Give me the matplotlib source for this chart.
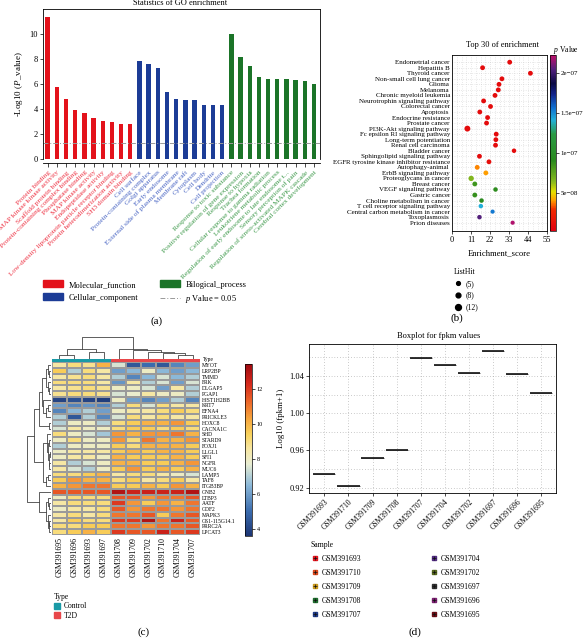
import matplotlib
matplotlib.use("Agg")
import matplotlib.pyplot as plt
import numpy as np
from matplotlib.colors import LinearSegmentedColormap, ListedColormap
from matplotlib.lines import Line2D
from matplotlib.patches import Patch
from matplotlib.ticker import FuncFormatter

plt.rcParams['font.family'] = ['Liberation Serif', 'DejaVu Serif']
plt.rcParams['mathtext.fontset'] = 'custom'
plt.rcParams['mathtext.it'] = 'Liberation Serif:italic'
plt.rcParams['mathtext.rm'] = 'Liberation Serif'
plt.rcParams['axes.linewidth'] = 0.6

# ---------------- Data: panel (a) ----------------
mf_labels = ["Protein binding", "MAP kinase kinase activity", "Scaffold protein binding",
             "Protein-containing complex binding", "Phosphatase binding", "MAP kinase activity",
             "Endopeptidase activity", "Low-density lipoprotein particle receptor binding",
             "Protein heterodimerization activity", "SH3 domain binding"]
mf_vals = [11.3, 5.75, 4.8, 3.9, 3.7, 3.3, 3.02, 3.0, 2.85, 2.8]
cc_labels = ["Cell surface", "Protein-containing complex", "Golgi apparatus", "Early endosome",
             "External side of plasma membrane", "Membrane raft", "Cytoplasm", "Cell body",
             "Dendrite", "Cell projection"]
cc_vals = [7.85, 7.6, 7.25, 5.35, 4.8, 4.75, 4.75, 4.35, 4.35, 4.3]
bp_labels = ["Response to toxic substance", "Positive regulation of gene expression",
             "Response to hypoxia", "Trachea formation", "Cellular response to gamma radiation",
             "Leukotriene metabolic process", "Regulation of early endosome to late endosome t...",
             "Sensory perception of pain", "Regulation of stress-activated MAPK cascade",
             "Cerebral cortex development"]
bp_vals = [9.95, 8.17, 7.4, 6.55, 6.42, 6.42, 6.42, 6.29, 6.21, 6.0]
p_cut = 0.05

# ---------------- Data: panel (b) ----------------
kegg_terms = ["Endometrial cancer", "Hepatitis B", "Thyroid cancer", "Non-small cell lung cancer",
              "Glioma", "Melanoma", "Chronic myeloid leukemia", "Neurotrophin signaling pathway",
              "Colorectal cancer", "Apoptosis", "Endocrine resistance", "Prostate cancer",
              "PI3K-Akt signaling pathway", "Fc epsilon RI signaling pathway", "Long-term potentiation",
              "Renal cell carcinoma", "Bladder cancer", "Sphingolipid signaling pathway",
              "EGFR tyrosine kinase inhibitor resistance", "Autophagy-animal", "ErbB signaling pathway",
              "Proteoglycans in cancer", "Breast cancer", "VEGF signaling pathway", "Gastric cancer",
              "Choline metabolism in cancer", "T cell receptor signaling pathway",
              "Central carbon metabolism in cancer", "Toxoplasmosis", "Prion diseases"]
kegg_score = [33.4, 17.7, 45.4, 28.9, 27.2, 26.8, 24.9, 18.3, 22.3, 16.1, 20.6, 20.0, 8.9, 25.6,
              25.4, 25.2, 35.9, 15.9, 21.4, 14.6, 19.6, 11.1, 13.2, 25.2, 13.2, 17.1, 16.7, 23.5,
              15.9, 35.1]
kegg_p = [1.0e-8, 1.0e-8, 1.0e-8, 1.0e-8, 1.0e-8, 1.0e-8, 1.0e-8, 1.0e-8, 1.0e-8, 1.0e-8,
          1.0e-8, 1.0e-8, 1.0e-8, 1.0e-8, 1.0e-8, 1.0e-8, 1.0e-8, 1.0e-8, 1.2e-8, 3.9e-8,
          4.1e-8, 6.6e-8, 8.5e-8, 9.0e-8, 8.8e-8, 9.2e-8, 1.42e-7, 1.55e-7, 2.05e-7, 2.2e-7]
kegg_hits = [8, 8, 8, 8, 8, 8, 8, 8, 8, 8, 8, 8, 12, 8, 8, 8, 7, 8, 8, 8, 8, 10, 8, 7, 8, 7,
             7, 6, 7, 6]
listhit_levels = [5, 8, 12]

# ---------------- Data: panel (c) ----------------
genes = ["MYOT", "LRP2BP", "TMMD", "FRK", "DLGAP5", "PGAP1", "HIST1H2BB", "KRT7", "EFNA4",
         "PRICKLE3", "HOXC8", "CACNA1C", "SHD", "STARD9", "FOXJ1", "LLGL1", "SFI1", "NGFR",
         "MUC6", "LAMP5", "TAF8", "ITGB3BP", "GNB2", "LTBP3", "AATF", "GDF2", "MAPK3",
         "GS1-115G14.1", "PRRC2A", "LPCAT3"]
hm_samples = ["GSM391695", "GSM391696", "GSM391693", "GSM391697", "GSM391708", "GSM391709",
              "GSM391702", "GSM391710", "GSM391704", "GSM391707"]
hm_types = ["Control"] * 4 + ["T2D"] * 6
expr = [
    [8.5, 9.0, 8.8, 10.0, 7.5, 4.5, 5.0, 4.5, 5.5, 6.0],
    [9.5, 7.0, 9.0, 8.5, 6.0, 6.5, 8.0, 6.5, 6.0, 6.5],
    [8.5, 8.8, 9.0, 8.5, 7.0, 5.5, 6.5, 7.5, 6.5, 7.0],
    [9.0, 9.0, 9.0, 8.5, 5.8, 8.5, 7.0, 7.5, 6.0, 7.5],
    [8.5, 8.8, 9.0, 8.8, 8.0, 8.0, 7.5, 6.0, 8.5, 7.0],
    [8.8, 9.0, 9.0, 8.8, 7.5, 7.8, 8.5, 8.0, 8.0, 7.0],
    [4.0, 4.3, 4.0, 3.8, 8.0, 6.0, 5.5, 6.0, 7.0, 5.5],
    [6.0, 5.5, 5.8, 5.5, 7.0, 9.0, 7.5, 9.0, 8.5, 8.5],
    [5.5, 6.5, 7.0, 6.0, 8.0, 8.5, 8.5, 9.0, 9.5, 9.0],
    [7.0, 4.5, 7.0, 5.5, 7.5, 9.0, 8.5, 9.0, 8.5, 8.5],
    [7.0, 8.0, 8.0, 7.0, 9.0, 9.5, 10.0, 10.0, 10.5, 9.5],
    [7.5, 8.5, 8.0, 8.0, 9.0, 9.5, 9.5, 9.0, 9.5, 9.0],
    [9.0, 8.0, 7.5, 6.8, 10.5, 10.0, 10.5, 10.5, 11.0, 10.0],
    [8.0, 9.0, 8.0, 8.0, 10.5, 9.0, 11.0, 10.0, 10.0, 10.5],
    [7.0, 8.0, 8.0, 8.0, 9.5, 9.0, 10.0, 10.0, 10.0, 9.5],
    [8.0, 8.5, 8.5, 8.5, 9.5, 10.0, 9.5, 10.0, 10.0, 9.5],
    [8.0, 8.5, 8.5, 8.0, 10.0, 9.5, 9.5, 9.5, 10.0, 9.5],
    [8.5, 7.0, 7.5, 8.0, 10.0, 10.0, 9.5, 9.5, 10.0, 10.5],
    [8.5, 7.5, 7.0, 8.0, 9.5, 10.5, 9.5, 10.0, 9.5, 10.0],
    [9.0, 9.0, 9.5, 10.0, 8.5, 9.0, 9.0, 8.5, 8.0, 7.5],
    [9.5, 10.5, 10.0, 10.0, 9.0, 9.5, 8.5, 9.0, 9.5, 8.5],
    [10.0, 10.5, 11.0, 11.0, 9.5, 9.5, 10.0, 9.5, 10.5, 10.0],
    [11.5, 11.5, 11.5, 11.5, 13.0, 12.5, 12.5, 12.5, 12.5, 13.0],
    [8.0, 9.0, 9.0, 9.0, 11.5, 11.5, 10.5, 11.0, 11.0, 11.5],
    [8.5, 9.0, 9.0, 9.0, 12.0, 10.5, 9.5, 10.5, 10.0, 11.0],
    [8.0, 8.5, 8.5, 9.0, 11.5, 10.5, 11.0, 11.0, 10.5, 11.0],
    [8.5, 9.0, 8.5, 9.0, 11.0, 11.0, 11.5, 9.5, 11.0, 11.5],
    [8.5, 9.5, 9.0, 9.0, 12.0, 12.0, 13.0, 11.0, 12.5, 11.5],
    [9.0, 9.0, 9.5, 9.5, 11.0, 11.0, 10.5, 11.0, 11.0, 11.5],
    [9.0, 9.5, 10.0, 9.5, 12.0, 11.5, 11.5, 12.5, 11.5, 12.0],
]
# dendrogram topology (leaf indices, merge heights)
col_tree = [[[0, 1, 0.15], [2, 3, 0.3], 0.43],
            [4, [5, [6, [7, [8, 9, 0.15], 0.25], 0.32], 0.38], 0.47], 1.0]
row_tree = [[[[[[0, [1, 2, 0.08], 0.12], [3, [4, 5, 0.08], 0.12], 0.2],
               [6, [[7, 8, 0.12], 9, 0.2], 0.32], 0.4], [10, 11, 0.1], 0.5],
             [[12, [[13, 14, 0.08], [[15, 16, 0.04], [17, 18, 0.08], 0.1], 0.13], 0.18],
              [[19, 20, 0.12], 21, 0.2], 0.32], 0.72],
            [22, [[23, [24, 25, 0.08], 0.12], [26, [[27, 28, 0.08], 29, 0.1], 0.14], 0.2], 0.5],
            1.0]

# ---------------- Data: panel (d) ----------------
bx_samples = ["GSM391693", "GSM391710", "GSM391709", "GSM391708", "GSM391707", "GSM391704",
              "GSM391702", "GSM391697", "GSM391696", "GSM391695"]
bx_vals = [0.9343, 0.9221, 0.9519, 0.9605, 1.0597, 1.0522, 1.0429, 1.0665, 1.0425, 1.0221]
bx_colors = ["#e3141c", "#d9461a", "#c8981c", "#1d6a2c", "#1e3a86", "#4f2a7e", "#55661e",
             "#2e2e2e", "#7a2070", "#6a0c14"]

# ---------------- Layout helpers ----------------
W, H = 585, 638
fig = plt.figure(figsize=(W / 100, H / 100), dpi=100)


def rect(l, t, r, b):
    return [l / W, 1 - b / H, (r - l) / W, (b - t) / H]


def ftext(x, y, s, **kw):
    return fig.text(x / W, 1 - y / H, s, **kw)


# ================= Panel (a) =================
axa = fig.add_axes(rect(43, 9.3, 320, 159.3))
axa.spines['bottom'].set_position(('outward', 3))
labels_a = mf_labels + cc_labels + bp_labels
vals_a = mf_vals + cc_vals + bp_vals
bar_cols = ["#e3121b"] * len(mf_vals) + ["#1c3c96"] * len(cc_vals) + ["#1b7428"] * len(bp_vals)
txt_cols = ["#ee3344"] * len(mf_vals) + ["#4a66c4"] * len(cc_vals) + ["#3f9a4c"] * len(bp_vals)
xa = np.arange(len(vals_a))
axa.bar(xa, vals_a, width=0.47, color=bar_cols)
axa.axhline(-np.log10(p_cut), color="#999999", lw=0.7, ls=(0, (5, 2, 1, 2)))
axa.set_xlim(-0.5, len(vals_a) - 0.35)
axa.set_ylim(0, 11.95)
axa.set_yticks([0, 2, 4, 6, 8, 10])
axa.set_xticks(xa)
axa.set_xticklabels(labels_a, rotation=45, ha='right', va='top', rotation_mode='anchor', fontsize=5.3)
for t, c in zip(axa.get_xticklabels(), txt_cols):
    t.set_color(c)
axa.tick_params(axis='y', labelsize=6, length=2, width=0.5, pad=1.5)
axa.tick_params(axis='x', length=3, width=0.5, pad=1.5)
axa.set_ylabel(r'-Log10 ($P$_value)', fontsize=6.5, labelpad=3)
ftext(180, 3, "Statistics of GO enrichment", ha='center', va='center', fontsize=6)
handles_a = [Patch(color="#e3121b"), Patch(color="#1c3c96"), Patch(color="#1b7428"),
             Line2D([], [], color="#999999", lw=0.7, ls=(0, (5, 2, 1, 2)))]
names_a = ["Molecular_function", "Cellular_component", "Bilogical_process", r"$p$ Value = 0.05"]
fig.legend(handles_a, names_a, ncol=2, loc='upper left', bbox_to_anchor=(35 / W, 1 - 273 / H),
           frameon=False, fontsize=6, handlelength=2.5, handleheight=0.9, columnspacing=2.6,
           labelspacing=0.55, handletextpad=0.6)
ftext(157, 321, "(a)", ha='center', va='center', fontsize=8)

# ================= Panel (b) =================
cmap_b = LinearSegmentedColormap.from_list("pv", [
    (0.0, "#e00010"), (0.12, "#f02a00"), (0.17, "#ff9a00"), (0.22, "#e6e000"),
    (0.28, "#86b81e"), (0.4, "#2a8a1e"), (0.55, "#2a9a44"), (0.63, "#22b0d8"),
    (0.7, "#1070d0"), (0.78, "#122288"), (0.84, "#0a0a44"), (0.92, "#52207c"),
    (1.0, "#c0106a")])
pmin, pmax = 3e-9, 2.23e-7
axb = fig.add_axes(rect(452, 55, 547, 231))
yb = np.arange(len(kegg_terms))
axb.set_axisbelow(True)
for gx in np.arange(2.75, 55, 2.75):
    axb.axvline(gx, color="#bbbbbb", lw=0.4, ls=(0, (1, 3)), zorder=0)
for gy in yb:
    axb.axhline(gy, color="#bbbbbb", lw=0.4, ls=(0, (1, 3)), zorder=0)
sc = axb.scatter(kegg_score, yb, c=kegg_p, cmap=cmap_b, vmin=pmin, vmax=pmax,
                 s=np.array(kegg_hits) * 1.5, zorder=3, linewidths=0)
axb.set_xlim(0, 55)
axb.set_ylim(len(kegg_terms) - 1 + 1.5, -1.3)
axb.set_xticks([0, 11, 22, 33, 44, 55])
axb.set_yticks(yb)
axb.set_yticklabels(kegg_terms, fontsize=5)
axb.tick_params(axis='y', length=0, pad=1.5)
axb.tick_params(axis='x', labelsize=6, length=2, width=0.5, pad=1.5)
axb.set_xlabel("Enrichment_score", fontsize=6.2, labelpad=4)
ftext(502, 45, "Top 30 of enrichment", ha='center', va='center', fontsize=6)
caxb = fig.add_axes(rect(550, 55, 556, 231))
cb = fig.colorbar(sc, cax=caxb)
cb.set_ticks([5e-8, 1e-7, 1.5e-7, 2e-7])
cb.ax.yaxis.set_major_formatter(FuncFormatter(lambda v, p: ('%g' % v).replace('-', '\u2212')))
cb.ax.tick_params(labelsize=5, length=2, width=0.5, pad=1.5)
cb.outline.set_linewidth(0.5)
ftext(553, 50, r"$p$ Value", ha='left', va='center', fontsize=5.5)
hit_handles = [Line2D([], [], ls='none', marker='o', color='black', markersize=np.sqrt(h * 1.5))
               for h in listhit_levels]
fig.legend(hit_handles, ["(%d)" % h for h in listhit_levels], title="ListHit", loc='upper left',
           bbox_to_anchor=(447 / W, 1 - 261 / H), frameon=False, fontsize=5.5, title_fontsize=5.5,
           alignment='left', handlelength=1.0, handletextpad=0.5, labelspacing=0.5)
ftext(457, 318, "(b)", ha='center', va='center', fontsize=8)

# ================= Panel (c) =================
data_c = np.array(expr)
nr, nc = data_c.shape
hm_vmin, hm_vmax = 3.6, 13.4
hm_anchor_vals = [3.6, 5.0, 6.5, 7.7, 8.6, 9.4, 10.3, 11.3, 12.3, 13.4]
hm_anchor_cols = ["#1c3574", "#3b6cae", "#8cb9d9", "#e9edd2", "#f7e6a0", "#f8d25c", "#f6a43c",
                  "#ec6428", "#d5281c", "#9e0a10"]
cmap_c = LinearSegmentedColormap.from_list(
    "hm", [((v - hm_vmin) / (hm_vmax - hm_vmin), c) for v, c in zip(hm_anchor_vals, hm_anchor_cols)])
axh = fig.add_axes(rect(52, 362.3, 200, 535))
mesh = axh.pcolormesh(data_c, cmap=cmap_c, vmin=hm_vmin, vmax=hm_vmax, edgecolors='#9a9a9a', linewidth=0.25)
axh.set_xlim(0, nc)
axh.set_ylim(nr, 0)
axh.yaxis.tick_right()
axh.set_yticks(np.arange(nr) + 0.5)
axh.set_yticklabels(genes, fontsize=4)
axh.set_xticks(np.arange(nc) + 0.5)
axh.set_xticklabels(hm_samples, rotation=90, fontsize=5.6)
axh.tick_params(length=0, pad=1.5)
for s in axh.spines.values():
    s.set_visible(False)

type_names = ["Control", "T2D"]
type_colors = ["#1a9aa6", "#e8474a"]
axt = fig.add_axes(rect(52, 358.5, 200, 362.3))
axt.pcolormesh(np.array([[type_names.index(t) for t in hm_types]]), cmap=ListedColormap(type_colors),
               vmin=-0.5, vmax=1.5)
axt.set_axis_off()
ftext(203, 359.5, "Type", ha='left', va='center', fontsize=4)


def draw_tree(ax, node, vertical):
    if isinstance(node, int):
        return node + 0.5, 0.0
    l, r, h = node
    pl, hl = draw_tree(ax, l, vertical)
    pr, hr = draw_tree(ax, r, vertical)
    if vertical:
        ax.plot([pl, pl, pr, pr], [hl, h, h, hr], color='#444444', lw=0.6)
    else:
        ax.plot([hl, h, h, hr], [pl, pl, pr, pr], color='#444444', lw=0.6)
    return (pl + pr) / 2, h


axcd = fig.add_axes(rect(52, 337, 200, 358.5))
draw_tree(axcd, col_tree, True)
axcd.set_xlim(0, nc)
axcd.set_ylim(0, 1.02)
axcd.set_axis_off()
axrd = fig.add_axes(rect(27, 362.3, 51, 535))
draw_tree(axrd, row_tree, False)
axrd.set_ylim(nr, 0)
axrd.set_xlim(1.02, 0)
axrd.set_axis_off()

caxc = fig.add_axes(rect(245, 364, 252, 536))
cbc = fig.colorbar(mesh, cax=caxc)
cbc.set_ticks([4, 6, 8, 10, 12])
cbc.ax.tick_params(labelsize=4.5, length=2, width=0.5, pad=1.5)
cbc.outline.set_linewidth(0.5)
type_handles = [Patch(color=c) for c in type_colors]
fig.legend(type_handles, type_names, title="Type", loc='upper left', bbox_to_anchor=(47 / W, 1 - 586 / H),
           frameon=False, fontsize=5.5, title_fontsize=5.5, alignment='left', handlelength=0.8,
           handleheight=0.8, handletextpad=0.5, labelspacing=0.2)
ftext(144, 632, "(c)", ha='center', va='center', fontsize=8)

# ================= Panel (d) =================
axd = fig.add_axes(rect(309, 344, 556, 493))
pos = np.arange(1, len(bx_vals) + 1)
bp = axd.boxplot([[v] for v in bx_vals], positions=pos, widths=0.92, showfliers=False,
                 patch_artist=True, manage_ticks=False)
for b, c in zip(bp['boxes'], bx_colors):
    b.set_facecolor(c)
    b.set_edgecolor('#222222')
    b.set_linewidth(0.5)
for m in bp['medians']:
    m.set_color('#222222')
    m.set_linewidth(1.3)
for k in ('whiskers', 'caps'):
    for ln in bp[k]:
        ln.set_visible(False)
axd.set_xlim(0.365, len(bx_vals) + 0.61)
axd.set_ylim(0.9143, 1.0744)
axd.set_yticks([0.92, 0.96, 1.00, 1.04])
axd.set_yticklabels(["0.92", "0.96", "1.00", "1.04"])
axd.set_yticks(np.arange(0.94, 1.07, 0.04), minor=True)
axd.set_xticks(pos)
axd.set_xticklabels(bx_samples, rotation=45, ha='right', va='top', rotation_mode='anchor', fontsize=5.5)
axd.tick_params(axis='y', labelsize=6, length=2, width=0.5, pad=1.5)
axd.tick_params(axis='y', which='minor', length=0)
axd.tick_params(axis='x', length=2, width=0.5, pad=1.5)
axd.grid(True, which='both', color='#9a9a9a', lw=0.5, ls=(0, (1, 3)))
axd.set_axisbelow(True)
axd.set_ylabel("Log10 (fpkm+1)", fontsize=6.3, labelpad=3)
ftext(439, 336, "Boxplot for fpkm values", ha='center', va='center', fontsize=6)
samp_handles = [(Line2D([], [], ls='none', marker='s', color=c, markersize=3.5),
                 Line2D([], [], ls='none', marker='+', color='#111111', markersize=3.5, mew=0.5))
                for c in bx_colors]
fig.legend(samp_handles, bx_samples, ncol=2, title="Sample", loc='upper left',
           bbox_to_anchor=(304 / W, 1 - 534 / H), frameon=False, fontsize=5.5, title_fontsize=5.5,
           alignment='left', handlelength=1.0, handletextpad=0.4, labelspacing=0.78, columnspacing=9.0)
ftext(415, 632, "(d)", ha='center', va='center', fontsize=8)

fig.savefig("out.png", dpi=100)
